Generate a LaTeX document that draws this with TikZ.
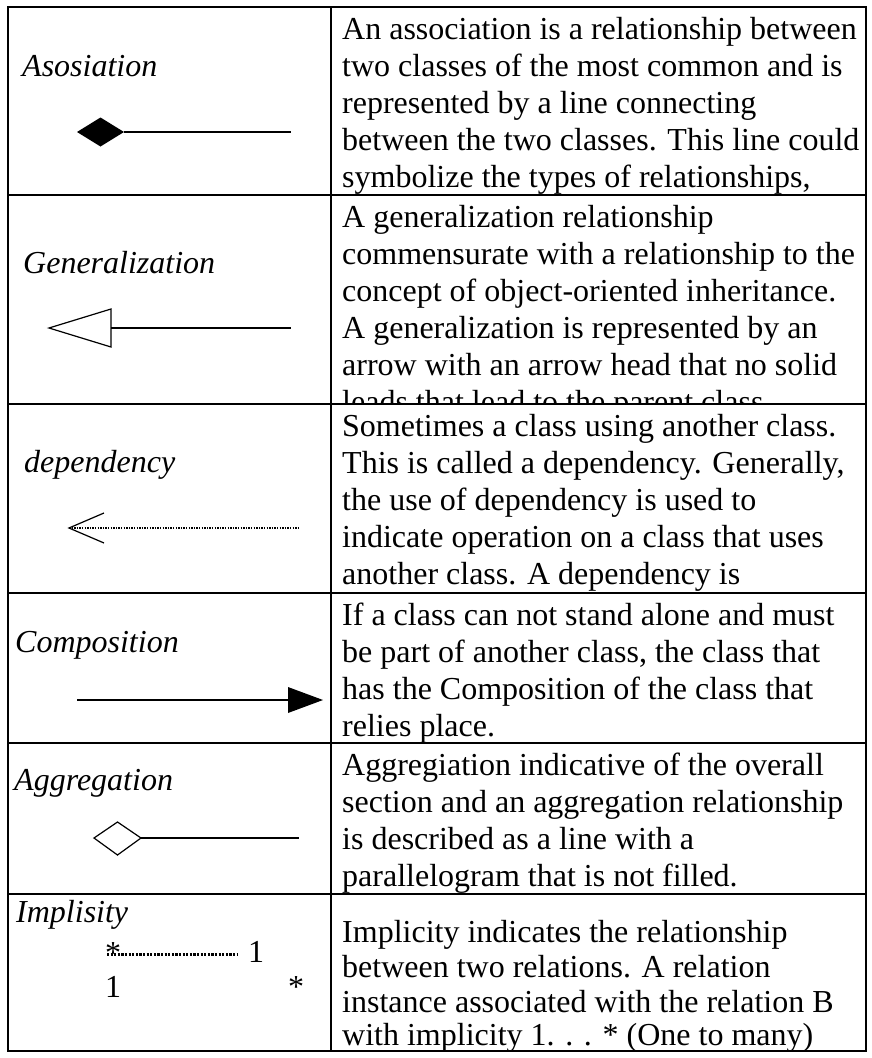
\documentclass[tikz,border=0pt]{standalone}
\usepackage{fontspec}
\setmainfont{Liberation Serif}
\begin{document}
\begin{tikzpicture}[x=1pt,y=-1pt,
  grid/.style={line width=2pt,line cap=rect},
  txt/.style={anchor=base west,inner sep=0pt,font=\fontsize{32}{37}\selectfont},
  lbl/.style={anchor=base west,inner sep=0pt,font=\fontsize{32}{37}\selectfont\itshape},
  conn/.style={line width=1.5pt},
  headline/.style={line width=1.2pt,line join=miter},
  dep/.style={line width=1.4pt,dash pattern=on 1.4pt off 1.2pt},
  impl/.style={line width=3pt,dash pattern=on 2.2pt off 1.4pt}]
\useasboundingbox (0,0) rectangle (872,1058);
% table grid
\draw[grid] (8,7) rectangle (866,1051);
\draw[grid] (331,7) -- (331,1051);
\foreach \yy in {195,404,593,743,894} \draw[grid] (8,\yy) -- (866,\yy);

% ---- row 1: association
\node[lbl] (l1) at (22,76) {Asosiation};
\coordinate (a0) at (77,132);
\coordinate (a1) at (124,132);
\coordinate (a2) at (291,132);
\fill (a0) -- (100.5,117.5) -- (a1) -- (100.5,146.5) -- cycle;
\draw[conn] (a1) -- (a2);
\node[txt] (r1a) at (342,39) {An association is a relationship between};
\node[txt] (r1b) at (342,76) {two classes of the most common and is};
\node[txt] (r1c) at (342,113) {represented by a line connecting};
\node[txt] (r1d) at (342,150) {between the two classes. This line could};
\node[txt] (r1e) at (342,187) {symbolize the types of relationships,};

% ---- row 2: generalization
\node[lbl] (l2) at (23,273) {Generalization};
\coordinate (g0) at (49,328);
\coordinate (g1) at (111,328);
\coordinate (g2) at (291,328);
\draw[headline] (g0) -- (111,309) -- (111,347) -- cycle;
\draw[conn] (g1) -- (g2);
\begin{scope}
\clip (332,196) rectangle (865,403);
\node[txt] (r2a) at (342,227) {A generalization relationship};
\node[txt] (r2b) at (342,264) {commensurate with a relationship to the};
\node[txt] (r2c) at (342,301) {concept of object-oriented inheritance.};
\node[txt] (r2d) at (342,338) {A generalization is represented by an};
\node[txt] (r2e) at (342,375) {arrow with an arrow head that no solid};
\node[txt] (r2f) at (342,412) {leads that lead to the parent class};
\end{scope}

% ---- row 3: dependency
\node[lbl] (l3) at (24,472) {dependency};
\coordinate (d0) at (69,528);
\coordinate (d2) at (300,528);
\draw[dep] (d0) -- (d2);
\draw[headline] (104,513) -- (d0) -- (104,543);
\node[txt] (r3a) at (342,436) {Sometimes a class using another class.};
\node[txt] (r3b) at (342,473) {This is called a dependency. Generally,};
\node[txt] (r3c) at (342,510) {the use of dependency is used to};
\node[txt] (r3d) at (342,547) {indicate operation on a class that uses};
\node[txt] (r3e) at (342,584) {another class. A dependency is};

% ---- row 4: composition
\node[lbl] (l4) at (15,652) {Composition};
\coordinate (c0) at (77,700);
\coordinate (c1) at (289,700);
\coordinate (c2) at (323,700);
\draw[conn] (c0) -- (c1);
\fill (288,687) -- (c2) -- (288,713) -- cycle;
\node[txt] (r4a) at (342,625) {If a class can not stand alone and must};
\node[txt] (r4b) at (342,662) {be part of another class, the class that};
\node[txt] (r4c) at (342,699) {has the Composition of the class that};
\node[txt] (r4d) at (342,736) {relies place.};

% ---- row 5: aggregation
\node[lbl] (l5) at (14,790) {Aggregation};
\coordinate (ag0) at (94,838);
\coordinate (ag1) at (141,838);
\coordinate (ag2) at (299,838);
\draw[headline] (ag0) -- (117.5,822) -- (ag1) -- (117.5,855) -- cycle;
\draw[conn] (ag1) -- (ag2);
\node[txt] (r5a) at (342,775) {Aggregiation indicative of the overall};
\node[txt] (r5b) at (342,812) {section and an aggregation relationship};
\node[txt] (r5c) at (342,849) {is described as a line with a};
\node[txt] (r5d) at (342,886) {parallelogram that is not filled.};

% ---- row 6: implicity
\node[lbl] (l6) at (16,922) {Implisity};
\node[txt] (s1) at (105,963) {*};
\node[txt] (o1) at (248,962) {1};
\node[txt] (o2) at (105,997) {1};
\node[txt] (s2) at (288,997) {*};
\coordinate (i0) at (107,954);
\coordinate (i1) at (237,954);
\draw[impl] (i0) -- (i1);
\node[txt] (r6a) at (342,942) {Implicity indicates the relationship};
\node[txt] (r6b) at (342,977) {between two relations. A relation};
\node[txt] (r6c) at (342,1012) {instance associated with the relation B};
\node[txt] (r6d) at (342,1045) {with implicity 1. . . * (One to many)};
\end{tikzpicture}
\end{document}
